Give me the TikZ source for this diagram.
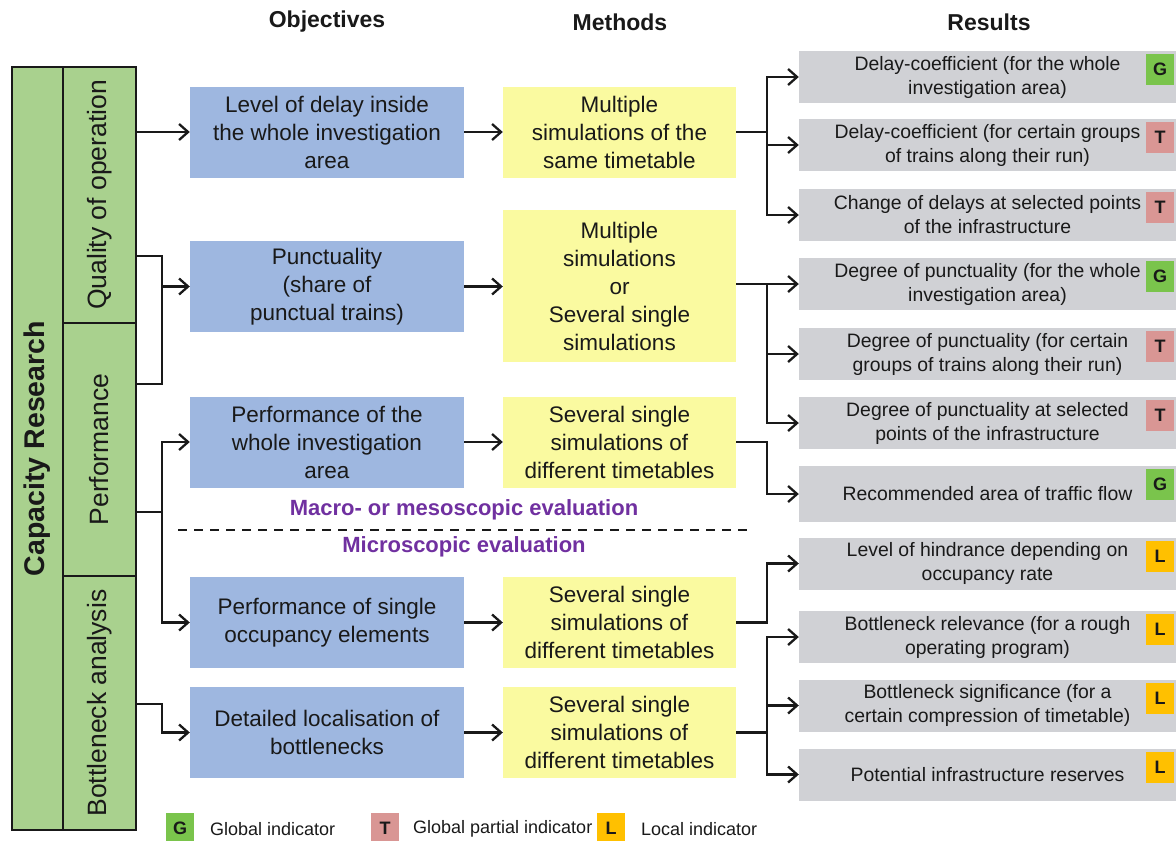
\documentclass[tikz,border=0pt]{standalone}
\usepackage{fontspec}
\setmainfont{Liberation Sans}
\usetikzlibrary{arrows.meta,calc}
\definecolor{objblue}{RGB}{158,183,224}
\definecolor{methyel}{RGB}{250,250,160}
\definecolor{resgray}{RGB}{208,209,213}
\definecolor{colgreen}{RGB}{169,209,142}
\definecolor{gG}{RGB}{122,196,76}
\definecolor{gT}{RGB}{217,150,148}
\definecolor{gL}{RGB}{255,192,0}
\definecolor{purp}{RGB}{112,48,160}
\definecolor{txt}{RGB}{25,25,25}
\begin{document}
\begin{tikzpicture}[x=1pt,y=-1pt,
  conn/.style={line width=2.3pt, draw=txt},
  arr/.style={conn, -{Straight Barb[length=9pt,width=16pt]}},
  objbox/.style={fill=objblue, inner sep=0pt, minimum width=274pt, minimum height=91pt, align=center, text=txt, font=\fontsize{22.5}{28}\selectfont},
  methbox/.style={fill=methyel, inner sep=0pt, minimum width=233pt, minimum height=91pt, align=center, text=txt, font=\fontsize{22.5}{28}\selectfont},
  resbox/.style={fill=resgray, inner sep=0pt, minimum width=377pt, minimum height=52pt, align=center, text=txt, font=\fontsize{19.4}{24}\selectfont},
  badgebox/.style={fill=#1, inner sep=0pt, minimum width=28pt, minimum height=31pt, text=txt, font=\fontsize{18}{20}\selectfont\bfseries},
  grnbox/.style={fill=colgreen, draw=txt, line width=2.5pt, inner sep=0pt},
  grntext/.style={rotate=90, text=txt, font=\fontsize{26.5}{30}\selectfont},
  hdr/.style={text=txt, font=\fontsize{23}{26}\selectfont\bfseries},
  purptext/.style={text=purp, font=\fontsize{22}{26}\selectfont\bfseries},
  legtext/.style={anchor=west, inner sep=0pt, text=txt, font=\fontsize{18}{20}\selectfont}
]
\useasboundingbox (0,0) rectangle (1176,841);

% headers
\node[hdr] (h1) at (327,22) {Objectives};
\node[hdr] (h2) at (620,22) {Methods};
\node[hdr] (h3) at (989,22) {Results};

% left green column
\node[grnbox, minimum width=51pt, minimum height=763pt] (cap) at (37.5,448.5) {};
\node[grnbox, minimum width=73pt, minimum height=256pt] (q) at (99.5,195) {};
\node[grnbox, minimum width=73pt, minimum height=253pt] (p) at (99.5,449.5) {};
\node[grnbox, minimum width=73pt, minimum height=254pt] (b) at (99.5,703) {};
\node[grntext, font=\fontsize{28.5}{30}\selectfont\bfseries] (capt) at (cap) {Capacity Research};
\node[grntext] (qt) at (q) {Quality of operation};
\node[grntext] (pt) at (p) {Performance};
\node[grntext] (bt) at (b) {Bottleneck analysis};

% objectives
\node[objbox] (o1) at (327,132) {Level of delay inside\\the whole investigation\\area};
\node[objbox] (o2) at (327,286.5) {Punctuality\\(share of\\punctual trains)};
\node[objbox] (o3) at (327,442) {Performance of the\\whole investigation\\area};
\node[objbox] (o4) at (327,622.5) {Performance of single\\occupancy elements};
\node[objbox] (o5) at (327,732.5) {Detailed localisation of\\bottlenecks};

% methods
\node[methbox] (m1) at (619.5,132) {Multiple\\simulations of the\\same timetable};
\node[methbox, minimum height=152pt] (m2) at (619.5,286) {Multiple\\simulations\\or\\Several single\\simulations};
\node[methbox] (m3) at (619.5,442) {Several single\\simulations of\\different timetables};
\node[methbox] (m4) at (619.5,622.5) {Several single\\simulations of\\different timetables};
\node[methbox] (m5) at (619.5,732.5) {Several single\\simulations of\\different timetables};

% results
\node[resbox] (r1) at (987.5,77) {Delay-coefficient (for the whole\\investigation area)};
\node[resbox] (r2) at (987.5,145) {Delay-coefficient (for certain groups\\of trains along their run)};
\node[resbox] (r3) at (987.5,215) {Change of delays at selected points\\of the infrastructure};
\node[resbox] (r4) at (987.5,284) {Degree of punctuality (for the whole\\investigation area)};
\node[resbox] (r5) at (987.5,354) {Degree of punctuality (for certain\\groups of trains along their run)};
\node[resbox] (r6) at (987.5,423) {Degree of punctuality at selected\\points of the infrastructure};
\node[resbox, minimum height=56pt] (r7) at (987.5,494) {Recommended area of traffic flow};
\node[resbox] (r8) at (987.5,563.5) {Level of hindrance depending on\\occupancy rate};
\node[resbox] (r9) at (987.5,637) {Bottleneck relevance (for a rough\\operating program)};
\node[resbox] (r10) at (987.5,705.5) {Bottleneck significance (for a\\certain compression of timetable)};
\node[resbox] (r11) at (987.5,774.5) {Potential infrastructure reserves};

% badges
\foreach \r/\c/\l in {r1/gG/G, r2/gT/T, r3/gT/T, r4/gG/G, r5/gT/T, r6/gT/T, r7/gG/G, r8/gL/L, r9/gL/L, r10/gL/L, r11/gL/L}{
  \node[badgebox=\c, anchor=north east] (bd\r) at ([xshift=-2pt,yshift=-3pt]\r.north east) {\l};
}

% divider
\coordinate (d1) at (178,530);
\coordinate (d2) at (750,530);
\draw[line width=2.3pt, draw=txt, dash pattern=on 9pt off 7pt] (d1) -- (d2);
\node[purptext] (mac) at (464,510) {Macro- or mesoscopic evaluation};
\node[purptext] (mic) at (464,547) {Microscopic evaluation};

% left connectors
\coordinate (xl) at (162,0);
\coordinate (ql) at (136,256);
\coordinate (pl) at (136,384);
\coordinate (pm) at (136,512);
\coordinate (bm) at (136,704);
\draw[arr] (q.east |- o1.west) -- (o1.west);
\draw[conn] (ql) -- (xl |- ql) -- (xl |- pl) -- (pl);
\draw[arr] (xl |- o2.west) -- (o2.west);
\draw[arr] (pm) -- (xl |- pm) -- (xl |- o3.west) -- (o3.west);
\draw[arr] (pm) -- (xl |- pm) -- (xl |- o4.west) -- (o4.west);
\draw[arr] (bm) -- (xl |- bm) -- (xl |- o5.west) -- (o5.west);

% objectives to methods
\foreach \i in {1,...,5}{
  \draw[arr] (o\i.east) -- (m\i.west |- o\i.east);
}

% right connectors
\coordinate (xr) at (767,0);
\foreach \r in {r1,r2,r3}{
  \draw[arr] (m1.east) -- (xr |- m1.east) -- (xr |- \r.west) -- (\r.west);
}
\foreach \r in {r4,r5,r6}{
  \draw[arr] (m2.east |- r4.west) -- (xr |- r4.west) -- (xr |- \r.west) -- (\r.west);
}
\draw[arr] (m3.east) -- (xr |- m3.east) -- (xr |- r7.west) -- (r7.west);
\draw[arr] (m4.east) -- (xr |- m4.east) -- (xr |- r8.west) -- (r8.west);
\foreach \r in {r9,r10,r11}{
  \draw[arr] (m5.east) -- (xr |- m5.east) -- (xr |- \r.west) -- (\r.west);
}

% legend
\node[badgebox=gG] (lg) at (180,828) {G};
\node[legtext] (lgt) at (210,829) {Global indicator};
\node[badgebox=gT] (lt) at (385,828) {T};
\node[legtext] (ltt) at (413,829) {Global partial indicator};
\node[badgebox=gL] (ll) at (611,828) {L};
\node[legtext] (llt) at (641,829) {Local indicator};
\end{tikzpicture}
\end{document}
